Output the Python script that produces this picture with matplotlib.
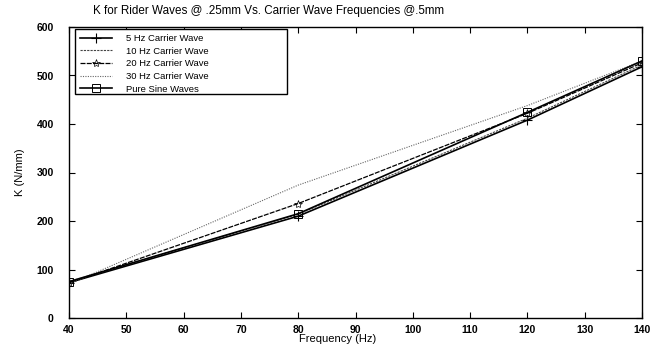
import matplotlib
matplotlib.use("Agg")
import matplotlib.pyplot as plt
from matplotlib.patches import Rectangle

plt.rcParams['font.family'] = ['Liberation Sans', 'DejaVu Sans']

freq = [40, 80, 120, 140]
k_5hz = [73, 210, 408, 518]
k_10hz = [75, 214, 412, 522]
k_20hz = [72, 236, 422, 526]
k_30hz = [70, 274, 438, 530]
k_pure = [75, 215, 424, 530]

labels = ["5 Hz Carrier Wave", "10 Hz Carrier Wave", "20 Hz Carrier Wave",
          "30 Hz Carrier Wave", "Pure Sine Waves"]
xticks = [40, 50, 60, 70, 80, 90, 100, 110, 120, 130, 140]
yticks = [0, 100, 200, 300, 400, 500, 600]

fig = plt.figure(figsize=(6.52, 3.54), dpi=100)
ax = fig.add_axes([69/652, 36/354, 573/652, 291/354])

ax.plot(freq, k_5hz, color='black', lw=1.2, ls='-', marker='+', ms=7, mew=0.8, label=labels[0])
ax.plot(freq, k_10hz, color='#444444', lw=0.8, ls=(0, (2, 1)), label=labels[1])
ax.plot(freq, k_20hz, color='black', lw=0.9, ls=(0, (4, 1)), marker='*', ms=6, mew=0.5,
        mfc='none', label=labels[2])
ax.plot(freq, k_30hz, color='#666666', lw=0.8, ls=(0, (1, 1.2)), label=labels[3])
ax.plot(freq, k_pure, color='black', lw=1.2, ls='-', marker='s', ms=6, mfc='none', mew=0.7,
        label=labels[4])

ax.set_xlim(40, 140)
ax.set_ylim(0, 600)
ax.set_xticks(xticks)
ax.set_yticks(yticks)
ax.tick_params(direction='in', top=True, right=True, labelsize=7.5, length=4, width=0.8)
ax.tick_params(axis='y', pad=11)
ax.tick_params(axis='x', pad=5)
for lbl in ax.get_xticklabels() + ax.get_yticklabels():
    lbl.set_fontweight('bold')
for s in ax.spines.values():
    s.set_linewidth(1.0)

ax.set_xlabel("Frequency (Hz)", fontsize=8, labelpad=1)
ax.xaxis.set_label_coords((338 - 69) / 573, -0.055)
ax.set_ylabel("K (N/mm)", fontsize=8)
ax.yaxis.set_label_coords(-(69 - 25) / 573, 0.5)
fig.text(268.5 / 652, 1 - 11 / 354, "K for Rider Waves @ .25mm Vs. Carrier Wave Frequencies @.5mm",
         ha='center', va='center', fontsize=8.4)

# legend frame drawn as a box spanning the reference's wide legend area
box_x0 = (75 - 69) / 573
box_x1 = (287 - 69) / 573
box_y0 = (318 - 94) / 291
box_y1 = (318 - 29) / 291
ax.add_patch(Rectangle((box_x0, box_y0), box_x1 - box_x0, box_y1 - box_y0,
                       transform=ax.transAxes, fill=True, facecolor='white',
                       edgecolor='black', lw=1.0, zorder=4))
leg = ax.legend(loc='upper left', bbox_to_anchor=(box_x0, box_y1), fontsize=6.8, frameon=False,
                handlelength=3.4, borderpad=0.55, borderaxespad=0.0,
                labelspacing=0.38, handletextpad=1.4)
leg.set_zorder(5)

fig.savefig("out.png", dpi=100)
